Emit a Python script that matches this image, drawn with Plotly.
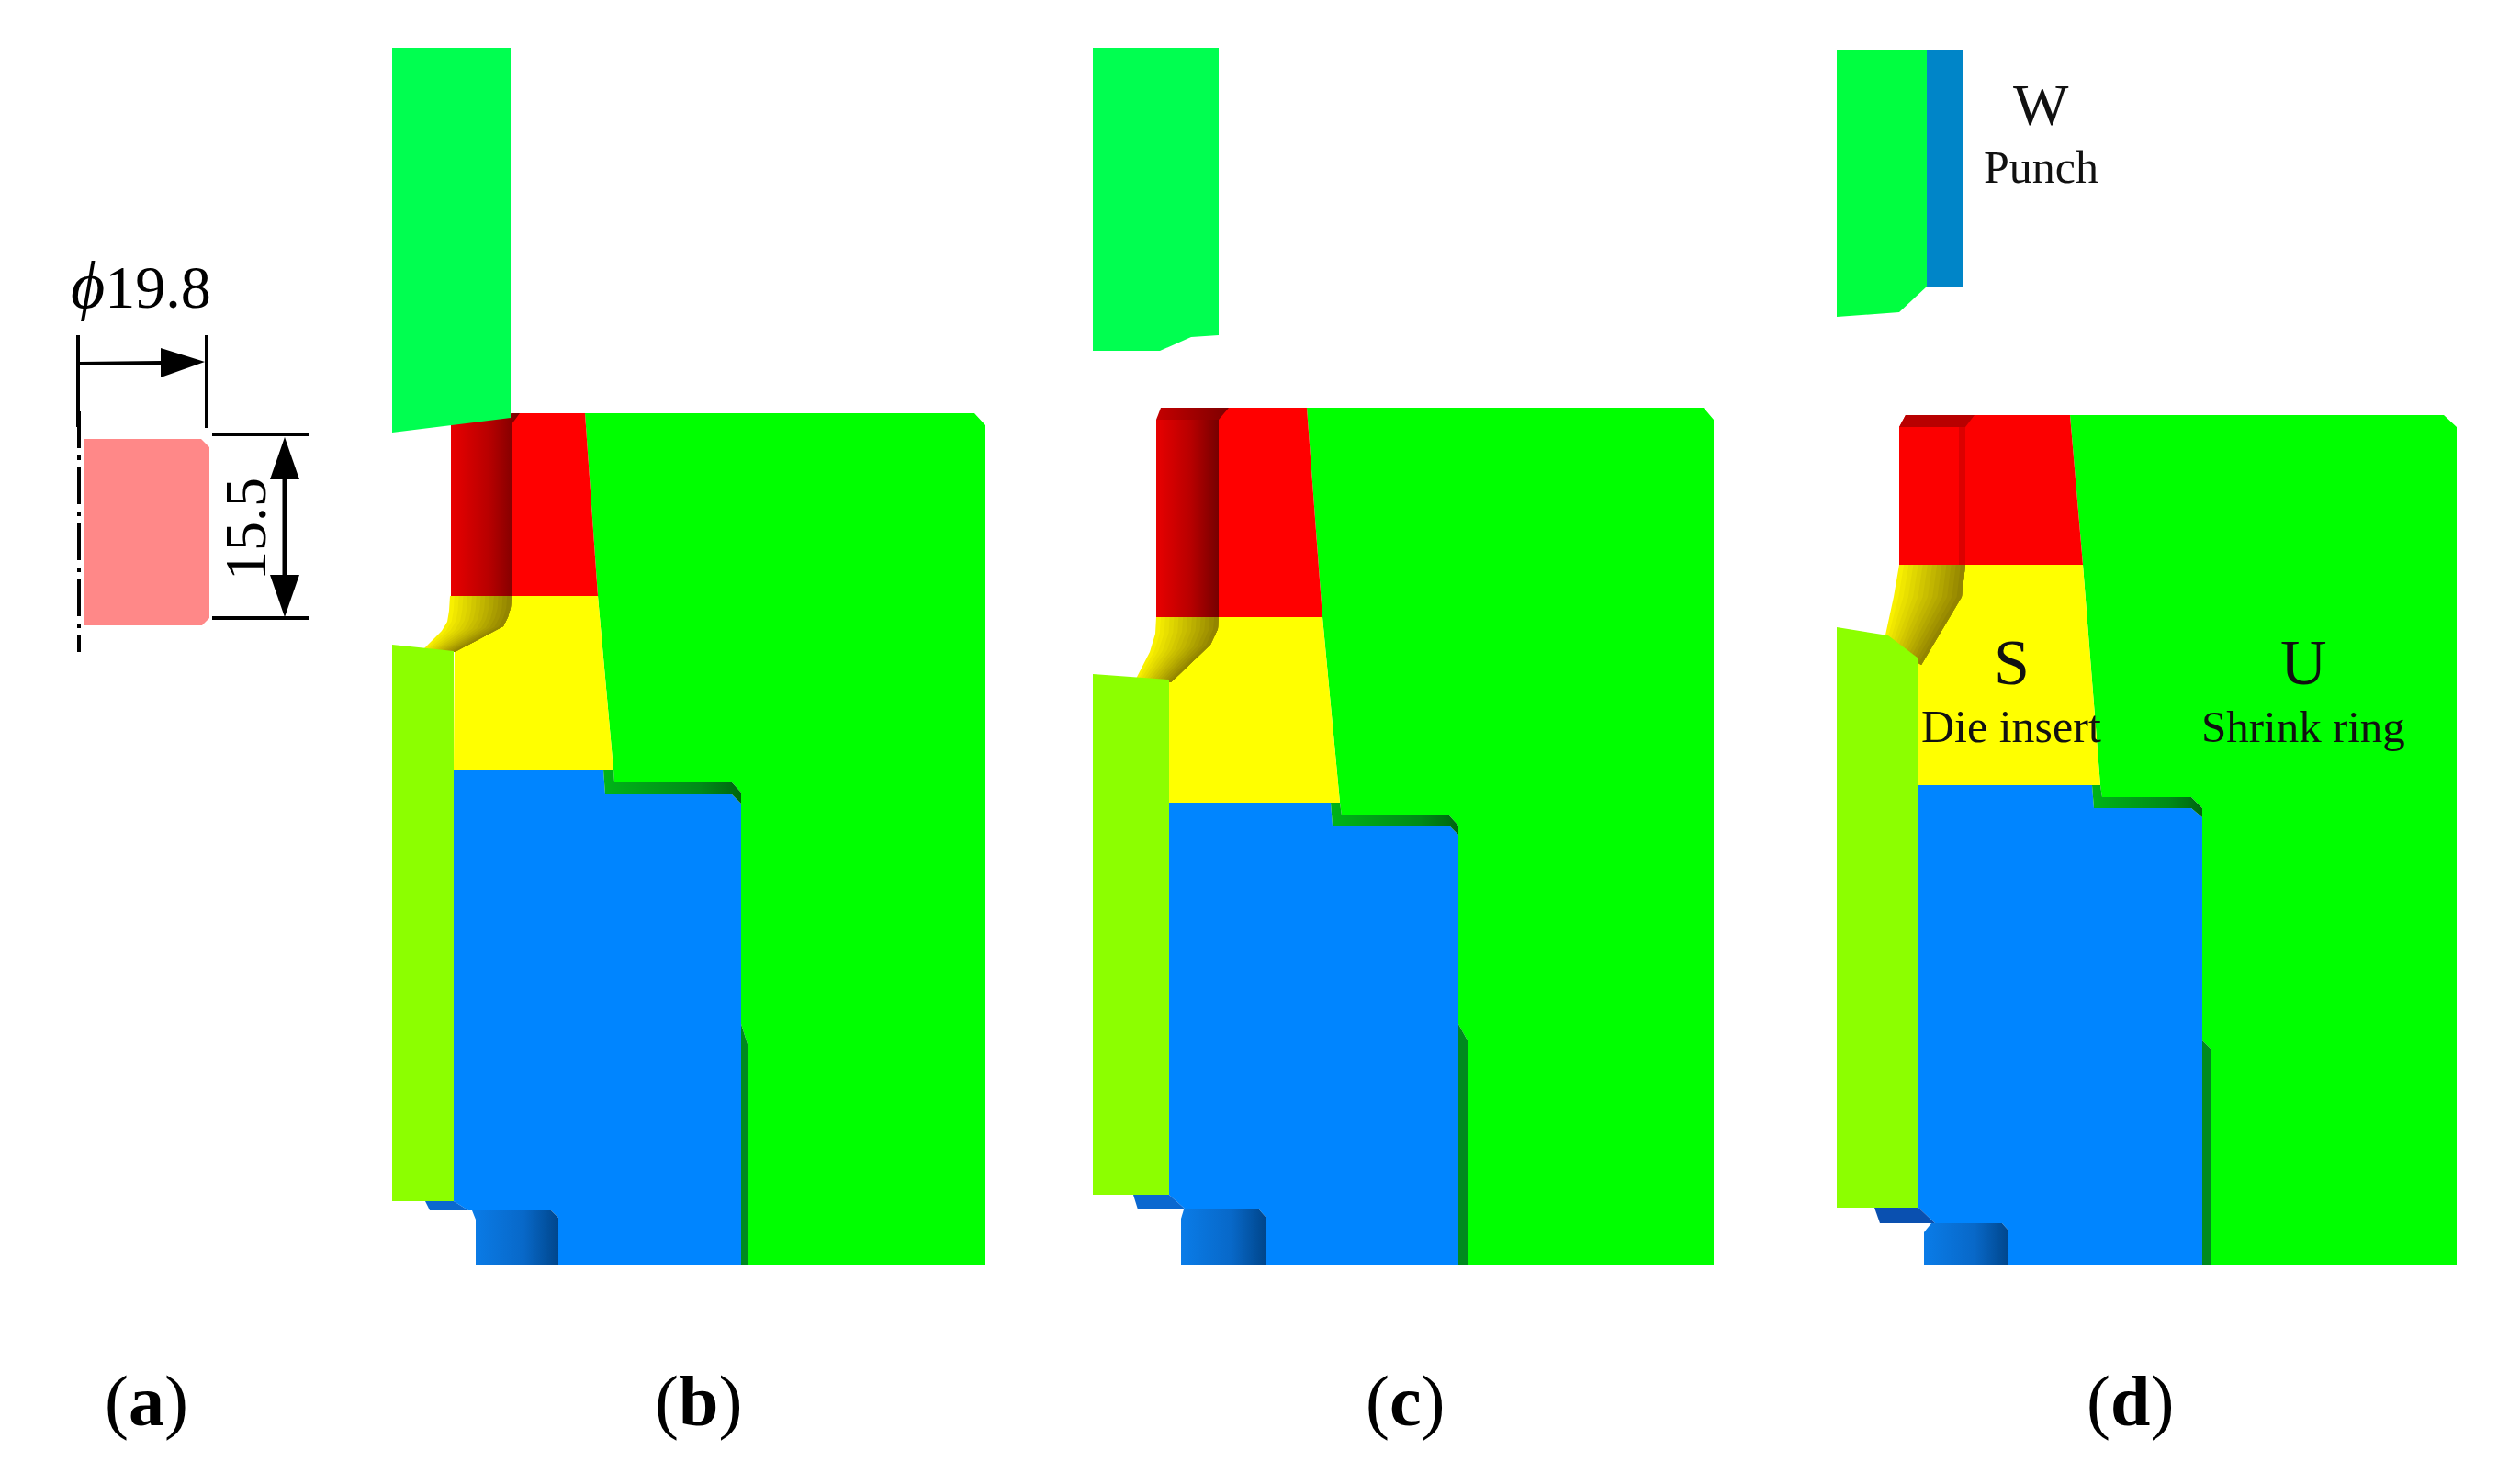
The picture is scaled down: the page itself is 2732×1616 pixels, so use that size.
import plotly.graph_objects as go

# outlines, in picture pixels
# (a) billet
billet_x = [92, 219, 228, 228, 220, 92]
billet_y = [478, 478, 487, 673, 681, 681]

# (b)
b_punch_x = [427, 556, 556, 427]
b_punch_y = [52, 52, 455, 471]
b_ring_x = [637, 1061, 1073, 1073, 814, 814, 807, 807, 797, 669, 668, 651]
b_ring_y = [450, 450, 463, 1378, 1378, 1137, 1115, 863, 852, 852, 838, 649]
b_red_x = [557, 637, 651, 557]
b_red_y = [450, 450, 649, 649]
b_redshade_x = [491, 557, 566, 557, 557, 491]
b_redshade_y = [460, 450, 450, 462, 649, 649]
b_yellow_x = [495, 530, 548, 553, 557, 651, 668, 494]
b_yellow_y = [704, 692, 682, 672, 649, 649, 838, 838]
b_bend_in_x = [490, 489, 487, 481, 472, 462]
b_bend_in_y = [649, 665, 677, 687, 696, 706]
b_bend_out_x = [557, 556, 553, 548, 530, 495]
b_bend_out_y = [649, 662, 672, 682, 692, 710]
b_work_x = [427, 494, 494, 427]
b_work_y = [702, 709, 1308, 1308]
b_blue_x = [494, 657, 659, 797, 807, 807, 608, 608, 600, 510, 494]
b_blue_y = [838, 838, 865, 865, 875, 1378, 1378, 1326, 1318, 1318, 1308]
b_step_x = [657, 668, 669, 797, 807, 807, 797, 659]
b_step_y = [838, 838, 852, 852, 863, 875, 865, 865]
b_strip_x = [807, 814, 814, 807]
b_strip_y = [1115, 1137, 1378, 1378]
b_foot_x = [463, 494, 510, 468]
b_foot_y = [1308, 1308, 1318, 1318]
b_boss_x = [514, 600, 608, 608, 518, 518]
b_boss_y = [1318, 1318, 1326, 1378, 1378, 1328]

# (c)
c_punch_x = [1190, 1327, 1327, 1297, 1263, 1190]
c_punch_y = [52, 52, 365, 367, 382, 382]
c_ring_x = [1423, 1855, 1866, 1866, 1599, 1599, 1588, 1588, 1578, 1461, 1459, 1440]
c_ring_y = [444, 444, 457, 1378, 1378, 1135, 1115, 899, 888, 888, 874, 672]
c_red_x = [1327, 1423, 1440, 1327]
c_red_y = [444, 444, 672, 672]
c_redshade_x = [1259, 1327, 1327, 1259]
c_redshade_y = [457, 457, 672, 672]
c_redtop_x = [1264, 1338, 1327, 1259]
c_redtop_y = [444, 444, 457, 457]
c_yellow_x = [1273, 1318, 1326, 1327, 1440, 1459, 1273]
c_yellow_y = [740, 702, 685, 672, 672, 874, 874]
c_bend_in_x = [1259, 1258, 1252, 1236]
c_bend_in_y = [672, 690, 710, 741]
c_bend_out_x = [1327, 1326, 1318, 1275]
c_bend_out_y = [672, 685, 702, 743]
c_work_x = [1190, 1273, 1273, 1190]
c_work_y = [734, 740, 1301, 1301]
c_blue_x = [1273, 1449, 1451, 1578, 1588, 1588, 1378, 1378, 1371, 1291, 1273]
c_blue_y = [874, 874, 899, 899, 909, 1378, 1378, 1325, 1317, 1317, 1301]
c_step_x = [1449, 1459, 1461, 1578, 1588, 1588, 1578, 1451]
c_step_y = [874, 874, 888, 888, 899, 909, 899, 899]
c_strip_x = [1588, 1599, 1599, 1588]
c_strip_y = [1115, 1135, 1378, 1378]
c_foot_x = [1234, 1273, 1291, 1239]
c_foot_y = [1301, 1301, 1317, 1317]
c_boss_x = [1289, 1371, 1378, 1378, 1286, 1286]
c_boss_y = [1317, 1317, 1325, 1378, 1378, 1327]

# (d)
d_punch_x = [2000, 2098, 2098, 2068, 2000]
d_punch_y = [54, 54, 312, 340, 345]
d_rod_x = [2098, 2138, 2138, 2098]
d_rod_y = [54, 54, 312, 312]
d_ring_x = [2254, 2661, 2675, 2675, 2408, 2408, 2398, 2398, 2386, 2289, 2287, 2268]
d_ring_y = [452, 452, 465, 1378, 1378, 1143, 1133, 880, 868, 868, 855, 615]
d_red_x = [2068, 2075, 2254, 2268, 2068]
d_red_y = [465, 452, 452, 615, 615]
d_redtop_x = [2075, 2150, 2140, 2068]
d_redtop_y = [452, 452, 465, 465]
d_redband_x = [2133, 2140, 2140, 2133]
d_redband_y = [465, 465, 615, 615]
d_yellow_x = [2094, 2136, 2140, 2268, 2287, 2089, 2089]
d_yellow_y = [717, 650, 615, 615, 855, 855, 717]
d_bend_in_x = [2068, 2062, 2052]
d_bend_in_y = [615, 650, 696]
d_bend_out_x = [2140, 2136, 2092]
d_bend_out_y = [615, 650, 724]
d_work_x = [2000, 2056, 2089, 2089, 2000]
d_work_y = [683, 692, 717, 1315, 1315]
d_blue_x = [2089, 2278, 2280, 2386, 2398, 2398, 2187, 2187, 2180, 2107, 2089]
d_blue_y = [855, 855, 880, 880, 890, 1378, 1378, 1340, 1332, 1332, 1315]
d_step_x = [2278, 2287, 2289, 2386, 2398, 2398, 2386, 2280]
d_step_y = [855, 855, 868, 868, 880, 890, 880, 880]
d_strip_x = [2398, 2408, 2408, 2398]
d_strip_y = [1133, 1143, 1378, 1378]
d_foot_x = [2041, 2089, 2107, 2047]
d_foot_y = [1315, 1315, 1332, 1332]
d_boss_x = [2103, 2180, 2187, 2187, 2095, 2095]
d_boss_y = [1332, 1332, 1340, 1378, 1378, 1342]

# dimension marks of (a)
arrow_w_x = [87, 175]
arrow_w_y = [396, 395]
head_w_x = [175, 223, 175]
head_w_y = [379, 394, 411]
head_up_x = [294, 310, 326]
head_up_y = [522, 476, 522]
head_down_x = [294, 310, 326]
head_down_y = [626, 672, 626]

panel_labels = ["a", "b", "c", "d"]
panel_label_x = [159, 760, 1530, 2319]

RED_SHADE = [[0, "#e80000"], [0.55, "#b80000"], [1, "#760000"]]
BLUE_SHADE = [[0, "#0a7ce8"], [0.6, "#0868c8"], [1, "#00468c"]]
GREEN_SHADE = [[0, "#00b418"], [0.7, "#008a18"], [1, "#006410"]]

fig = go.Figure()


def poly(x, y, color=None, shade=None):
    kw = dict(fillcolor=color)
    if shade is not None:
        kw = dict(fillgradient=dict(type="horizontal", colorscale=shade))
    fig.add_trace(go.Scatter(x=x + x[:1], y=y + y[:1], mode="lines", fill="toself",
                             line=dict(width=0), hoverinfo="skip", showlegend=False, **kw))


def bend(in_x, in_y, out_x, out_y, steps=14):
    # shading across the curved land, painted back to front so it follows the arc
    for k in range(steps):
        f = k / steps
        ex = [a + (b - a) * f for a, b in zip(in_x, out_x)]
        ey = [a + (b - a) * f for a, b in zip(in_y, out_y)]
        col = "rgb(%d,%d,0)" % (248 - 108 * f, 240 - 115 * f)
        poly(ex + out_x[::-1], ey + out_y[::-1], col)


def line(x, y, width=4, dash="solid"):
    fig.add_trace(go.Scatter(x=x, y=y, mode="lines", line=dict(color="black", width=width, dash=dash),
                             hoverinfo="skip", showlegend=False))


def text(x, y, s, size, angle=0, color="#111111"):
    fig.add_annotation(x=x, y=y, text=s, showarrow=False, textangle=angle, xanchor="center", yanchor="middle",
                       font=dict(family="Liberation Serif", size=size, color=color))


# (a)
poly(billet_x, billet_y, "#ff8888")
line([85, 85], [365, 465])
line([86, 86], [448, 710], dash="40px,8px,5px,8px")
line([225, 225], [365, 466])
line(arrow_w_x, arrow_w_y)
poly(head_w_x, head_w_y, "black")
line([231, 336], [473, 473])
line([231, 336], [673, 673])
line([310, 310], [515, 632], width=5)
poly(head_up_x, head_up_y, "black")
poly(head_down_x, head_down_y, "black")
text(153, 311, "<span style='font-size:72px'><i>ϕ</i></span>19.8", 66, color="black")
text(267, 576, "15.5", 64, angle=-90, color="black")

# (b)
poly(b_ring_x, b_ring_y, "#00ff00")
poly(b_red_x, b_red_y, "#ff0000")
poly(b_redshade_x, b_redshade_y, shade=RED_SHADE)
poly(b_yellow_x, b_yellow_y, "#ffff00")
bend(b_bend_in_x, b_bend_in_y, b_bend_out_x, b_bend_out_y)
poly(b_blue_x, b_blue_y, "#0085ff")
poly(b_step_x, b_step_y, shade=GREEN_SHADE)
poly(b_strip_x, b_strip_y, "#008a1e")
poly(b_foot_x, b_foot_y, "#0a68d0")
poly(b_boss_x, b_boss_y, shade=BLUE_SHADE)
poly(b_work_x, b_work_y, "#8cff00")
poly(b_punch_x, b_punch_y, "#00ff50")

# (c)
poly(c_ring_x, c_ring_y, "#00ff00")
poly(c_red_x, c_red_y, "#ff0000")
poly(c_redshade_x, c_redshade_y, shade=RED_SHADE)
poly(c_redtop_x, c_redtop_y, shade=[[0, "#c40000"], [1, "#7e0000"]])
poly(c_yellow_x, c_yellow_y, "#ffff00")
bend(c_bend_in_x, c_bend_in_y, c_bend_out_x, c_bend_out_y)
poly(c_blue_x, c_blue_y, "#0085ff")
poly(c_step_x, c_step_y, shade=GREEN_SHADE)
poly(c_strip_x, c_strip_y, "#008a1e")
poly(c_foot_x, c_foot_y, "#0a68d0")
poly(c_boss_x, c_boss_y, shade=BLUE_SHADE)
poly(c_work_x, c_work_y, "#8cff00")
poly(c_punch_x, c_punch_y, "#00ff50")

# (d)
poly(d_ring_x, d_ring_y, "#00ff00")
poly(d_red_x, d_red_y, "#fc0000")
poly(d_redtop_x, d_redtop_y, "#b80000")
poly(d_redband_x, d_redband_y, "#dc0000")
poly(d_yellow_x, d_yellow_y, "#ffff00")
bend(d_bend_in_x, d_bend_in_y, d_bend_out_x, d_bend_out_y)
poly(d_blue_x, d_blue_y, "#0085ff")
poly(d_step_x, d_step_y, shade=GREEN_SHADE)
poly(d_strip_x, d_strip_y, "#008a1e")
poly(d_foot_x, d_foot_y, "#0a50b0")
poly(d_boss_x, d_boss_y, shade=BLUE_SHADE)
poly(d_work_x, d_work_y, "#8cff00")
poly(d_rod_x, d_rod_y, "#0085c8")
poly(d_punch_x, d_punch_y, "#00ff40")

text(2222, 114, "W", 64)
text(2222, 182, "Punch", 50)
text(2190, 721, "S", 70)
text(2508, 721, "U", 70)
text(2190, 791, "Die insert", 50)
text(2508, 791, "Shrink ring", 49)

for name, x in zip(panel_labels, panel_label_x):
    text(x, 1525, "(<b>" + name + "</b>)", 78, color="black")

fig.update_xaxes(range=[0, 2732], visible=False, fixedrange=True)
fig.update_yaxes(range=[1616, 0], visible=False, fixedrange=True)
fig.update_layout(width=2732, height=1616, margin=dict(l=0, r=0, t=0, b=0),
                  paper_bgcolor="white", plot_bgcolor="white", showlegend=False)

fig.write_html("out.html", config=dict(displayModeBar=False),
               post_script="document.body.style.margin='0';")
